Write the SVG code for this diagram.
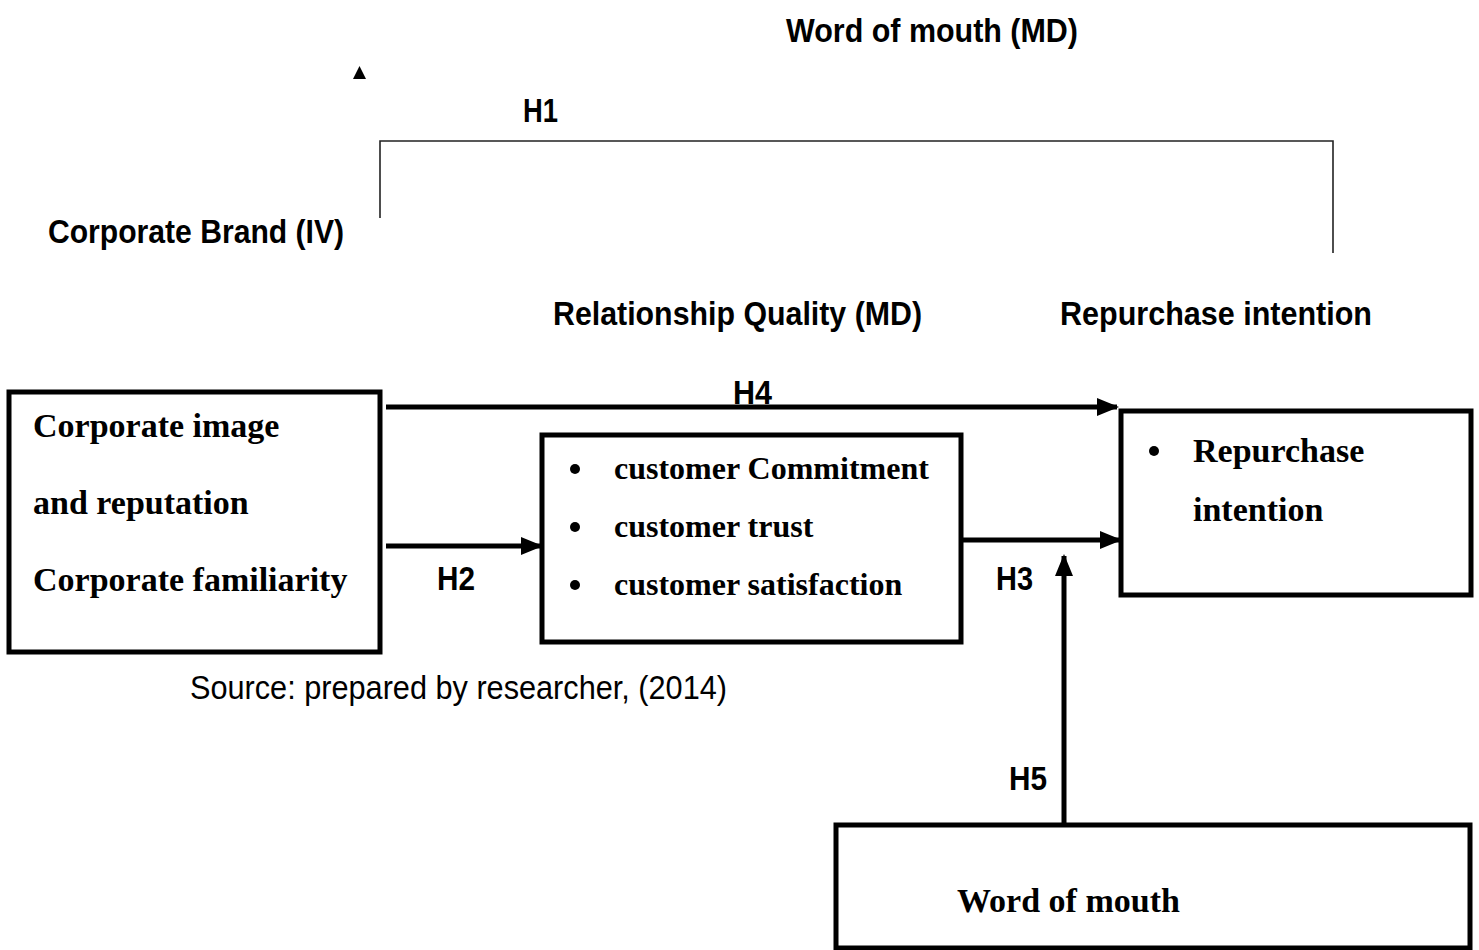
<svg xmlns="http://www.w3.org/2000/svg" width="1479" height="950" viewBox="0 0 1479 950">
  <style>
    .box { fill: #ffffff; stroke: #000000; stroke-width: 5; }
    .serif { font-family: "Liberation Serif", "Times New Roman", serif; font-weight: bold; fill: #000; }
    .narrow { font-family: "Liberation Sans Narrow", "Liberation Sans", Arial, sans-serif; font-weight: bold; fill: #000; font-size: 34px; }
    .narrow-reg { font-family: "Liberation Sans Narrow", "Liberation Sans", Arial, sans-serif; font-weight: normal; fill: #000; font-size: 34px; }
    .conn { stroke: #000; stroke-width: 5; fill: none; }
    .bracket { stroke: #222; stroke-width: 1.6; fill: none; }
  </style>
  <defs>
    <marker id="arrow" viewBox="0 0 22 18" refX="20" refY="9" markerWidth="22" markerHeight="18" markerUnits="userSpaceOnUse" orient="auto">
      <path d="M0,0 L22,9 L0,18 Z" fill="#000"/>
    </marker>
  </defs>
  <rect width="1479" height="950" fill="#ffffff"/>

  <!-- headings -->
  <g id="headings">
    <text class="narrow" x="786" y="42" textLength="292" lengthAdjust="spacingAndGlyphs">Word of mouth (MD)</text>
    <text class="narrow" x="48" y="243" textLength="296" lengthAdjust="spacingAndGlyphs">Corporate Brand (IV)</text>
    <text class="narrow" x="553" y="325" textLength="369" lengthAdjust="spacingAndGlyphs">Relationship Quality (MD)</text>
    <text class="narrow" x="1060" y="325" textLength="312" lengthAdjust="spacingAndGlyphs">Repurchase intention</text>
    <text class="narrow-reg" x="190" y="699" textLength="537" lengthAdjust="spacingAndGlyphs">Source: prepared by researcher, (2014)</text>
  </g>

  <!-- connectors -->
  <g id="connectors">
    <polygon points="353,79 366,79 359.5,66" fill="#000"/>
    <polyline class="bracket" points="380,218 380,141 1333,141 1333,253"/>
    <line class="conn" x1="386" y1="407" x2="1117" y2="407" marker-end="url(#arrow)"/>
    <line class="conn" x1="386" y1="546" x2="541" y2="546" marker-end="url(#arrow)"/>
    <line class="conn" x1="963" y1="540" x2="1120" y2="540" marker-end="url(#arrow)"/>
    <line class="conn" x1="1064" y1="824" x2="1064" y2="556" marker-end="url(#arrow)"/>
    <text class="narrow" x="523" y="122" textLength="35" lengthAdjust="spacingAndGlyphs">H1</text>
    <text class="narrow" x="733" y="404" textLength="39" lengthAdjust="spacingAndGlyphs">H4</text>
    <text class="narrow" x="437" y="590" textLength="38" lengthAdjust="spacingAndGlyphs">H2</text>
    <text class="narrow" x="996" y="590" textLength="37" lengthAdjust="spacingAndGlyphs">H3</text>
    <text class="narrow" x="1009" y="790" textLength="38" lengthAdjust="spacingAndGlyphs">H5</text>
  </g>

  <!-- Corporate brand box -->
  <g id="node-corporate">
    <rect class="box" x="9" y="392" width="371" height="260"/>
    <text class="serif" font-size="34" x="33" y="437">Corporate image</text>
    <text class="serif" font-size="34" x="33" y="514">and reputation</text>
    <text class="serif" font-size="34" x="33" y="591">Corporate familiarity</text>
  </g>

  <!-- Relationship quality box -->
  <g id="node-relationship">
    <rect class="box" x="542" y="435" width="419" height="207"/>
    <circle cx="575" cy="469" r="5"/>
    <circle cx="575" cy="527" r="5"/>
    <circle cx="575" cy="585" r="5"/>
    <text class="serif" font-size="32" x="614" y="479">customer Commitment</text>
    <text class="serif" font-size="32" x="614" y="537">customer trust</text>
    <text class="serif" font-size="32" x="614" y="595">customer satisfaction</text>
  </g>

  <!-- Repurchase intention box -->
  <g id="node-repurchase">
    <rect class="box" x="1121" y="411" width="350" height="184"/>
    <circle cx="1154" cy="451" r="5"/>
    <text class="serif" font-size="34" x="1193" y="462">Repurchase</text>
    <text class="serif" font-size="34" x="1193" y="521">intention</text>
  </g>

  <!-- Word of mouth box -->
  <g id="node-wom">
    <rect class="box" x="836" y="825" width="634" height="123"/>
    <text class="serif" font-size="34" x="957" y="912">Word of mouth</text>
  </g>
</svg>
